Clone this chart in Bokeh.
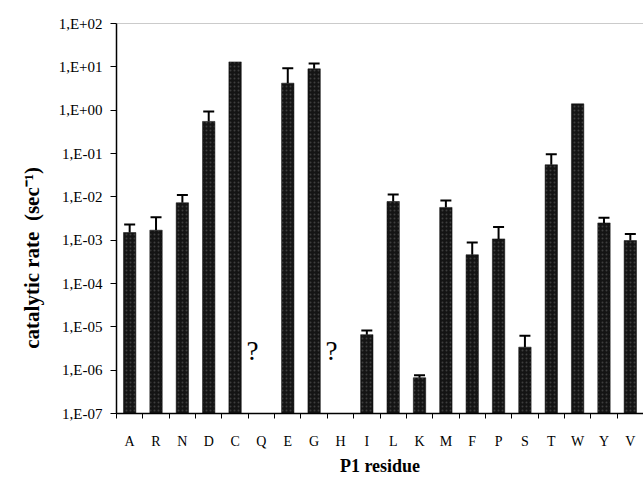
import math
from bokeh.plotting import figure
from bokeh.models import (ColumnDataSource, Range1d, FixedTicker, Whisker, TeeHead, Span)
from bokeh.core.properties import value
from bokeh.embed import file_html
from bokeh.resources import INLINE

# ---- data ----
residues = ["A", "R", "N", "D", "C", "Q", "E", "G", "H", "I",
            "L", "K", "M", "F", "P", "S", "T", "W", "Y", "V"]
rates = [1.5e-3, 1.7e-3, 7.3e-3, 0.55, 13.0, None, 4.2, 9.0, None, 6.6e-6,
         7.8e-3, 6.7e-7, 5.7e-3, 4.6e-4, 1.07e-3, 3.4e-6, 0.055, 1.4, 2.5e-3, 9.8e-4]
rate_err_top = [2.3e-3, 3.4e-3, 1.1e-2, 0.93, None, None, 9.3, 11.9, None, 8.2e-6,
                1.13e-2, 7.6e-7, 8.2e-3, 8.8e-4, 2.0e-3, 6.2e-6, 0.096, None, 3.3e-3, 1.38e-3]
unknown_residues = ["Q", "H"]
unknown_level = 2.8e-6
y_tick_values = [1e-7, 1e-6, 1e-5, 1e-4, 1e-3, 1e-2, 1e-1, 1e0, 1e1, 1e2]
y_tick_labels = ["1,E-07", "1,E-06", "1,E-05", "1,E-04", "1,E-03",
                 "1,E-02", "1,E-01", "1,E+00", "1,E+01", "1,E+02"]
y_min, y_max = 1e-7, 1e2

SERIF = "Liberation Serif"
NBSP = "\u00a0"

centers = [i + 0.5 for i in range(len(residues))]

bar_x = [c for c, r in zip(centers, rates) if r is not None]
bar_top = [r for r in rates if r is not None]
bars = ColumnDataSource(dict(x=bar_x, top=bar_top, bottom=[y_min] * len(bar_x)))

ex, elo, ehi = [], [], []
for c, r, e in zip(centers, rates, rate_err_top):
    if r is not None and e is not None:
        ex.append(c); elo.append(r); ehi.append(e)
errs = ColumnDataSource(dict(x=ex, lower=elo, upper=ehi))

qx = [centers[residues.index(u)] for u in unknown_residues]
qsrc = ColumnDataSource(dict(x=qx, y=[unknown_level] * len(qx), t=["?"] * len(qx)))

p = figure(width=643, height=479, output_backend="svg", toolbar_location=None,
           y_axis_type="log",
           x_range=Range1d(0, len(residues)), y_range=Range1d(y_min, y_max),
           min_border_left=116, min_border_right=0, min_border_top=23, min_border_bottom=66)
p.outline_line_color = None
p.xgrid.visible = False
p.ygrid.visible = False
p.background_fill_color = "white"
p.border_fill_color = "white"

p.vbar(x="x", top="top", bottom="bottom", width=0.47, source=bars,
       fill_color="#141414", line_color="#0a0a0a", line_width=0.5,
       hatch_pattern="dot", hatch_color="#8c8c8c", hatch_scale=4, hatch_weight=1, hatch_alpha=0.35)

p.add_layout(Whisker(source=errs, base="x", lower="lower", upper="upper", dimension="height",
                     line_color="black", line_width=2, lower_head=None,
                     upper_head=TeeHead(size=11, line_color="black", line_width=2)))

p.text(x="x", y="y", text="t", source=qsrc, text_font=value(SERIF), text_font_size="27px",
       text_align="center", text_baseline="middle", x_offset=-9, text_color="black")

p.add_layout(Span(location=y_max, dimension="width", line_color="#333333",
                  line_width=1, line_dash="1 1"))

# x axis
xa = p.xaxis[0]
xa.ticker = FixedTicker(ticks=centers, minor_ticks=list(range(len(residues) + 1)))
xa.major_label_overrides = {c: r for c, r in zip(centers, residues)}
xa.major_tick_line_color = None
xa.major_tick_out = 0
xa.major_tick_in = 0
xa.minor_tick_out = 5
xa.minor_tick_in = 0
xa.minor_tick_line_color = "black"
xa.axis_line_color = "black"
xa.axis_line_width = 1.5
xa.major_label_text_font = SERIF
xa.major_label_text_font_size = "14px"
xa.major_label_text_color = "black"
xa.major_label_standoff = 15
xa.axis_label = "P1 residue"
xa.axis_label_text_font = SERIF
xa.axis_label_text_font_size = "18px"
xa.axis_label_text_font_style = "bold"
xa.axis_label_text_color = "black"
xa.axis_label_standoff = 4

# y axis
ya = p.yaxis[0]
ya.ticker = FixedTicker(ticks=y_tick_values, minor_ticks=[])
ya.major_label_overrides = {v: l for v, l in zip(y_tick_values, y_tick_labels)}
ya.major_tick_out = 6
ya.major_tick_in = 0
ya.minor_tick_line_color = None
ya.major_tick_line_color = "black"
ya.axis_line_color = "black"
ya.axis_line_width = 1.5
ya.major_label_text_font = SERIF
ya.major_label_text_font_size = "15px"
ya.major_label_text_color = "black"
ya.major_label_standoff = 8
ya.axis_label = "catalytic rate" + NBSP * 2 + "(sec\u207b\u00b9)" + NBSP * 15
ya.axis_label_text_font = SERIF
ya.axis_label_text_font_size = "21px"
ya.axis_label_text_font_style = "bold"
ya.axis_label_text_color = "black"
ya.axis_label_standoff = 12

open("out.html", "w").write(file_html(p, INLINE))
